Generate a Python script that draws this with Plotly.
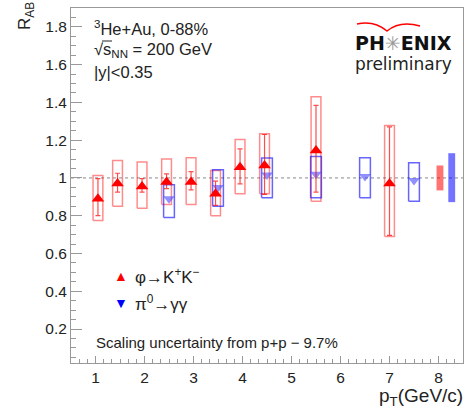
import plotly.graph_objects as go

# ---------------- data ----------------
phi_x = [1.05, 1.45, 1.95, 2.45, 2.95, 3.45, 3.95, 4.45, 5.5, 7.0]
phi_y = [0.89, 0.97, 0.955, 0.978, 0.978, 0.916, 1.057, 1.066, 1.145, 0.97]
phi_stat_hi = [0.996, 1.025, 0.996, 1.022, 1.034, 0.983, 1.154, 1.23, 1.384, 1.27]
phi_stat_lo = [0.80, 0.925, 0.925, 0.943, 0.937, 0.855, 0.969, 0.913, 0.925, 0.696]
phi_sys_hi = [1.013, 1.093, 1.084, 1.10, 1.107, 1.04, 1.204, 1.234, 1.43, 1.278]
phi_sys_lo = [0.775, 0.85, 0.84, 0.86, 0.86, 0.80, 0.916, 0.916, 0.876, 0.69]

pi0_x = [2.5, 3.5, 4.5, 5.5, 6.5, 7.5]
pi0_y = [0.89, 0.95, 1.015, 1.02, 1.008, 0.987]
pi0_sys_hi = [0.964, 1.043, 1.105, 1.114, 1.107, 1.08]
pi0_sys_lo = [0.79, 0.85, 0.895, 0.895, 0.895, 0.876]

scale_x = [8.03, 8.27]
scale_hi = [1.066, 1.131]
scale_lo = [0.934, 0.872]

x_ticks = [1, 2, 3, 4, 5, 6, 7, 8]
y_ticks = [0.2, 0.4, 0.6, 0.8, 1.0, 1.2, 1.4, 1.6, 1.8]
y_tick_text = ["0.2", "0.4", "0.6", "0.8", "1", "1.2", "1.4", "1.6", "1.8"]

# ---------------- layout geometry ----------------
W, H = 466, 410
L, R, T, B = 71, 463, 8, 363


def px(x):
    return (x - L) / (R - L)


def py(y):
    return (B - y) / (B - T)


def boxes(xs, lo, hi, hw):
    bx, by = [], []
    for x, a, b in zip(xs, lo, hi):
        bx += [x - hw, x + hw, x + hw, x - hw, x - hw, None]
        by += [a, a, b, b, a, None]
    return bx, by


FONT = "Liberation Sans, Arial, sans-serif"
RED = "rgb(255,0,0)"
BLUE = "rgb(0,0,255)"

fig = go.Figure()

# systematic boxes phi
bx, by = boxes(phi_x, phi_sys_lo, phi_sys_hi, 0.1)
fig.add_trace(go.Scatter(x=bx, y=by, mode="lines",
                         line=dict(color="rgba(255,0,0,0.45)", width=1.5),
                         hoverinfo="skip", showlegend=False))
# systematic boxes pi0
bx, by = boxes(pi0_x, pi0_sys_lo, pi0_sys_hi, 0.11)
fig.add_trace(go.Scatter(x=bx, y=by, mode="lines",
                         line=dict(color="rgba(0,0,255,0.6)", width=1.5),
                         hoverinfo="skip", showlegend=False))

# scaling uncertainty boxes
for i, col in enumerate(["rgba(255,0,0,0.55)", "rgba(0,0,255,0.55)"]):
    sx, sy = boxes([scale_x[i]], [scale_lo[i]], [scale_hi[i]], 0.07)
    fig.add_trace(go.Scatter(x=sx[:-1], y=sy[:-1], mode="lines", fill="toself",
                             fillcolor=col, line=dict(width=0, color=col),
                             hoverinfo="skip", showlegend=False))

# pi0 points
fig.add_trace(go.Scatter(x=pi0_x, y=pi0_y, mode="markers",
                         marker=dict(symbol="triangle-down", size=10,
                                     color="rgba(70,70,255,0.6)"),
                         showlegend=False))

# phi points with stat errors
fig.add_trace(go.Scatter(
    x=phi_x, y=phi_y, mode="markers",
    marker=dict(symbol="triangle-up", size=11, color=RED),
    error_y=dict(type="data", symmetric=False,
                 array=[h - y for h, y in zip(phi_stat_hi, phi_y)],
                 arrayminus=[y - l for l, y in zip(phi_stat_lo, phi_y)],
                 color="rgba(255,0,0,0.7)", thickness=1.2, width=2.5),
    showlegend=False))

# dashed unity line
fig.add_shape(type="line", xref="paper", yref="y", x0=0, x1=1, y0=1, y1=1,
              line=dict(color="#888", width=1, dash="dot"), layer="below")

axis_common = dict(showline=True, linecolor="#999", linewidth=1, mirror=True,
                   ticks="inside", tickcolor="#999", showgrid=False, zeroline=False,
                   tickfont=dict(family=FONT, size=15.5, color="#222"))

fig.update_xaxes(range=[0.5, 8.5], tickvals=x_ticks, ticklen=7,
                 minor=dict(dtick=1 / 6, tick0=0, ticks="inside", ticklen=4, tickcolor="#999"),
                 **axis_common)
fig.update_yaxes(range=[0.02, 1.9], tickvals=y_ticks, ticktext=y_tick_text, ticklen=11,
                 minor=dict(dtick=0.05, tick0=0, ticks="inside", ticklen=5, tickcolor="#999"),
                 **axis_common)

ann = []


def text(x, y, s, size=15, xa="left", ya="middle", color="#222", family=FONT, angle=0):
    ann.append(dict(x=px(x), y=py(y), xref="paper", yref="paper", text=s, showarrow=False,
                    xanchor=xa, yanchor=ya, textangle=angle,
                    font=dict(family=family, size=size, color=color)))


text(92, 28, "<sup>3</sup>He+Au, 0-88%", 16.5)
text(92, 50, "√s<sub>NN</sub> = 200 GeV", 16.5)
text(92, 72, "|y|<0.35", 16.5)
text(112, 276, "▲", 14, color=RED)
text(133, 276, "φ→K<sup>+</sup>K<sup>−</sup>", 17)
text(112, 303, "▼", 14, color=BLUE)
text(133, 303, "π<sup>0</sup>→γγ", 17)
text(94, 342, "Scaling uncertainty from p+p − 9.7%", 15)
text(465, 397, "p<sub>T</sub>(GeV/c)", 19, xa="right")
text(26, 0, "R<sub>AB</sub>", 17, xa="center", ya="top", angle=-90)
text(403, 43, "<b>PH<span style='color:#999'>✳</span>ENIX</b>", 19, xa="center", color="#111",
     family="DejaVu Sans, sans-serif")
text(403, 64, "preliminary", 17, xa="center", color="#222", family="DejaVu Sans, sans-serif")

# PHENIX logo arc
fig.add_shape(type="path", xref="paper", yref="paper",
              path=f"M {px(357)},{py(24)} Q {px(374)},{py(20)} {px(387)},{py(31)} "
                   f"Q {px(400)},{py(20)} {px(420)},{py(26)}",
              line=dict(color=RED, width=1.5))
# overline of sqrt
fig.add_shape(type="line", xref="paper", yref="paper", x0=px(102), x1=px(112),
              y0=py(41), y1=py(41), line=dict(color="#222", width=1))

fig.update_layout(width=W, height=H, margin=dict(l=L, r=W - R, t=T, b=H - B),
                  paper_bgcolor="white", plot_bgcolor="white", annotations=ann,
                  showlegend=False)

fig.write_html("out.html", config={"displayModeBar": False},
               post_script="document.body.style.margin='0';document.body.style.overflow='hidden';")
